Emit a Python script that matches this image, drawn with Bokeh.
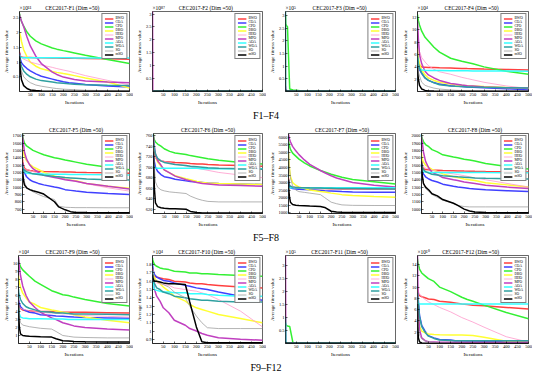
from bokeh.plotting import figure
from bokeh.layouts import column, row
from bokeh.models import Div, Range1d, FixedTicker, CustomJSTickFormatter
from bokeh.embed import file_html
from bokeh.resources import INLINE

ITERS = [1, 2, 5, 10, 20, 35, 50, 75, 100, 150, 170, 200, 225, 250, 300, 400, 500]
XTICKS = [50, 100, 150, 200, 250, 300, 350, 400, 450, 500]
NAMES = ["BWO", "COA", "CPO", "DBO", "HHO", "MPO", "AOA", "WOA", "SO", "mSO"]
COLORS = ["#ff4040", "#4040ff", "#33f033", "#ffff33", "#ff99cc", "#c040c0",
          "#33ffff", "#30a0a0", "#a0a0a0", "#000000"]
WIDTHS = [1.5, 1.5, 1.5, 1.5, 0.8, 1.5, 1.5, 1.5, 0.8, 1.5]
FONT = "Liberation Serif"

# ---------------- F1 (x10^11) ----------------
F1_BWO = [1.35, 1.30, 1.20, 1.17, 1.16, 1.16, 1.16, 1.15, 1.15, 1.14, 1.14, 1.13, 1.13, 1.13, 1.12, 1.11, 1.10]
F1_COA = [1.30, 1.25, 1.10, 0.98, 0.88, 0.78, 0.70, 0.60, 0.52, 0.42, 0.38, 0.33, 0.30, 0.28, 0.24, 0.19, 0.15]
F1_CPO = [2.65, 2.60, 2.50, 2.38, 2.22, 2.02, 1.88, 1.72, 1.62, 1.48, 1.44, 1.39, 1.35, 1.31, 1.23, 1.09, 0.95]
F1_DBO = [2.00, 1.98, 1.90, 1.70, 1.42, 1.18, 1.00, 0.86, 0.77, 0.68, 0.65, 0.61, 0.58, 0.54, 0.46, 0.32, 0.12]
F1_HHO = [1.30, 1.25, 1.20, 1.15, 1.10, 1.05, 1.00, 0.95, 0.90, 0.82, 0.78, 0.73, 0.69, 0.64, 0.54, 0.38, 0.22]
F1_MPO = [2.62, 2.58, 2.50, 2.40, 2.20, 1.85, 1.55, 1.20, 0.95, 0.66, 0.58, 0.49, 0.45, 0.41, 0.36, 0.32, 0.30]
F1_AOA = [1.25, 1.20, 1.18, 1.16, 1.15, 1.15, 1.15, 1.15, 1.15, 1.15, 1.15, 1.15, 1.15, 1.14, 1.14, 1.14, 1.14]
F1_WOA = [1.20, 1.15, 1.00, 0.85, 0.70, 0.58, 0.50, 0.42, 0.37, 0.32, 0.30, 0.28, 0.26, 0.25, 0.23, 0.21, 0.20]
F1_SO = [1.20, 1.10, 0.90, 0.70, 0.50, 0.38, 0.30, 0.22, 0.18, 0.12, 0.10, 0.08, 0.07, 0.06, 0.04, 0.03, 0.02]
F1_MSO = [1.20, 1.00, 0.70, 0.40, 0.20, 0.10, 0.05, 0.03, 0.02, 0.01, 0.01, 0.01, 0.01, 0.01, 0.01, 0.01, 0.01]
F1_YTICKS = [0.5, 1, 1.5, 2, 2.5]

# ---------------- F2 ----------------
F2_BWO = [0.02, 0.01, 0.01, 0.01, 0.01, 0.01, 0.01, 0.01, 0.01, 0.01, 0.01, 0.01, 0.01, 0.01, 0.01, 0.01, 0.01]
F2_COA = [0.02, 0.01, 0.01, 0.01, 0.01, 0.01, 0.01, 0.01, 0.01, 0.01, 0.01, 0.01, 0.01, 0.01, 0.01, 0.01, 0.01]
F2_CPO = [0.05, 0.01, 0.01, 0.01, 0.01, 0.01, 0.01, 0.01, 0.01, 0.01, 0.01, 0.01, 0.01, 0.01, 0.01, 0.01, 0.01]
F2_DBO = [0.02, 0.01, 0.01, 0.01, 0.01, 0.01, 0.01, 0.01, 0.01, 0.01, 0.01, 0.01, 0.01, 0.01, 0.01, 0.01, 0.01]
F2_HHO = [3.30, 0.01, 0.01, 0.01, 0.01, 0.01, 0.01, 0.01, 0.01, 0.01, 0.01, 0.01, 0.01, 0.01, 0.01, 0.01, 0.01]
F2_MPO = [3.30, 0.01, 0.01, 0.01, 0.01, 0.01, 0.01, 0.01, 0.01, 0.01, 0.01, 0.01, 0.01, 0.01, 0.01, 0.01, 0.01]
F2_AOA = [0.02, 0.01, 0.01, 0.01, 0.01, 0.01, 0.01, 0.01, 0.01, 0.01, 0.01, 0.01, 0.01, 0.01, 0.01, 0.01, 0.01]
F2_WOA = [0.02, 0.01, 0.01, 0.01, 0.01, 0.01, 0.01, 0.01, 0.01, 0.01, 0.01, 0.01, 0.01, 0.01, 0.01, 0.01, 0.01]
F2_SO = [0.02, 0.01, 0.01, 0.01, 0.01, 0.01, 0.01, 0.01, 0.01, 0.01, 0.01, 0.01, 0.01, 0.01, 0.01, 0.01, 0.01]
F2_MSO = [0.02, 0.01, 0.01, 0.01, 0.01, 0.01, 0.01, 0.01, 0.01, 0.01, 0.01, 0.01, 0.01, 0.01, 0.01, 0.01, 0.01]
F2_YTICKS = [0.5, 1, 1.5, 2, 2.5, 3]

# ---------------- F3 ----------------
F3_BWO = [0.05, 0.02, 0.01, 0.01, 0.01, 0.01, 0.01, 0.01, 0.01, 0.01, 0.01, 0.01, 0.01, 0.01, 0.01, 0.01, 0.01]
F3_COA = [0.05, 0.02, 0.01, 0.01, 0.01, 0.01, 0.01, 0.01, 0.01, 0.01, 0.01, 0.01, 0.01, 0.01, 0.01, 0.01, 0.01]
F3_CPO = [3.00, 2.65, 2.60, 2.55, 0.10, 0.06, 0.05, 0.02, 0.01, 0.01, 0.01, 0.01, 0.01, 0.01, 0.01, 0.01, 0.01]
F3_DBO = [0.05, 0.02, 0.01, 0.01, 0.01, 0.01, 0.01, 0.01, 0.01, 0.01, 0.01, 0.01, 0.01, 0.01, 0.01, 0.01, 0.01]
F3_HHO = [0.08, 0.03, 0.01, 0.01, 0.01, 0.01, 0.01, 0.01, 0.01, 0.01, 0.01, 0.01, 0.01, 0.01, 0.01, 0.01, 0.01]
F3_MPO = [0.20, 0.10, 0.05, 0.02, 0.01, 0.01, 0.01, 0.01, 0.01, 0.01, 0.01, 0.01, 0.01, 0.01, 0.01, 0.01, 0.01]
F3_AOA = [0.05, 0.02, 0.01, 0.01, 0.01, 0.01, 0.01, 0.01, 0.01, 0.01, 0.01, 0.01, 0.01, 0.01, 0.01, 0.01, 0.01]
F3_WOA = [3.30, 0.10, 0.02, 0.01, 0.01, 0.01, 0.01, 0.01, 0.01, 0.01, 0.01, 0.01, 0.01, 0.01, 0.01, 0.01, 0.01]
F3_SO = [0.05, 0.02, 0.01, 0.01, 0.01, 0.01, 0.01, 0.01, 0.01, 0.01, 0.01, 0.01, 0.01, 0.01, 0.01, 0.01, 0.01]
F3_MSO = [0.05, 0.02, 0.01, 0.01, 0.01, 0.01, 0.01, 0.01, 0.01, 0.01, 0.01, 0.01, 0.01, 0.01, 0.01, 0.01, 0.01]
F3_YTICKS = [0.5, 1, 1.5, 2, 2.5, 3]

# ---------------- F4 (x10^4) ----------------
F4_BWO = [6.0, 5.6, 4.8, 4.3, 4.0, 3.95, 3.9, 3.88, 3.85, 3.8, 3.78, 3.75, 3.72, 3.7, 3.65, 3.58, 3.5]
F4_COA = [5.5, 5.2, 4.4, 3.6, 2.9, 2.2, 1.8, 1.45, 1.2, 0.95, 0.88, 0.8, 0.75, 0.7, 0.6, 0.45, 0.3]
F4_CPO = [12.5, 12.2, 11.5, 10.8, 9.8, 8.8, 8.2, 7.2, 6.4, 5.4, 5.2, 4.9, 4.7, 4.5, 4.0, 3.3, 2.8]
F4_DBO = [7.0, 6.6, 5.5, 4.5, 3.5, 2.7, 2.2, 1.8, 1.5, 1.2, 1.1, 1.0, 0.95, 0.9, 0.8, 0.65, 0.5]
F4_HHO = [10.0, 9.5, 8.0, 6.5, 5.5, 4.8, 4.2, 3.6, 3.2, 2.8, 2.6, 2.3, 2.1, 1.9, 1.5, 0.9, 0.5]
F4_MPO = [11.5, 10.8, 8.5, 6.0, 4.5, 3.3, 2.7, 2.2, 1.8, 1.3, 1.2, 1.05, 0.95, 0.9, 0.75, 0.62, 0.55]
F4_AOA = [5.5, 5.0, 4.2, 3.7, 3.5, 3.45, 3.42, 3.4, 3.4, 3.38, 3.38, 3.37, 3.36, 3.35, 3.34, 3.32, 3.3]
F4_WOA = [6.0, 5.6, 4.6, 3.8, 3.0, 2.2, 1.8, 1.4, 1.1, 0.9, 0.85, 0.8, 0.75, 0.72, 0.68, 0.62, 0.58]
F4_SO = [5.0, 4.2, 3.2, 2.5, 1.5, 1.0, 0.8, 0.55, 0.4, 0.25, 0.2, 0.15, 0.12, 0.1, 0.08, 0.06, 0.05]
F4_MSO = [4.0, 3.0, 2.0, 1.0, 0.4, 0.18, 0.1, 0.07, 0.05, 0.04, 0.04, 0.04, 0.04, 0.04, 0.04, 0.04, 0.04]
F4_YTICKS = [2, 4, 6, 8, 10, 12]

# ---------------- F5 ----------------
F5_BWO = [1380, 1350, 1300, 1260, 1235, 1225, 1220, 1215, 1212, 1210, 1208, 1206, 1205, 1203, 1200, 1195, 1190]
F5_COA = [1330, 1300, 1250, 1200, 1140, 1100, 1075, 1050, 1030, 1000, 990, 965, 955, 945, 928, 912, 900]
F5_CPO = [1730, 1700, 1650, 1600, 1560, 1530, 1500, 1470, 1440, 1400, 1390, 1370, 1355, 1340, 1310, 1270, 1235]
F5_DBO = [1550, 1520, 1480, 1420, 1360, 1310, 1275, 1240, 1200, 1150, 1135, 1110, 1095, 1085, 1050, 1010, 985]
F5_HHO = [1300, 1280, 1265, 1250, 1240, 1225, 1210, 1190, 1170, 1140, 1130, 1110, 1095, 1080, 1045, 990, 945]
F5_MPO = [1720, 1680, 1600, 1480, 1380, 1300, 1250, 1200, 1160, 1130, 1120, 1100, 1090, 1080, 1050, 1010, 975]
F5_AOA = [1260, 1240, 1220, 1200, 1190, 1185, 1182, 1180, 1178, 1176, 1175, 1174, 1173, 1172, 1170, 1168, 1165]
F5_WOA = [1300, 1280, 1250, 1230, 1210, 1195, 1180, 1170, 1160, 1145, 1140, 1130, 1125, 1120, 1110, 1100, 1095]
F5_SO = [1300, 1250, 1150, 1070, 1000, 960, 935, 900, 870, 830, 740, 725, 722, 720, 720, 718, 718]
F5_MSO = [1250, 1200, 1100, 1030, 990, 965, 950, 930, 905, 800, 730, 690, 665, 655, 652, 650, 650]
F5_YTICKS = [700, 800, 900, 1000, 1100, 1200, 1300, 1400, 1500, 1600, 1700]

# ---------------- F6 ----------------
F6_BWO = [740, 735, 725, 718, 714, 712, 711, 710, 709, 708, 707, 706, 706, 705, 704, 703, 702]
F6_COA = [728, 720, 710, 700, 692, 686, 682, 680, 677, 674, 673, 672, 671, 670, 669, 668, 667]
F6_CPO = [762, 758, 752, 748, 744, 740, 735, 730, 727, 724, 722, 720, 718, 716, 713, 709, 706]
F6_DBO = [748, 742, 732, 720, 710, 702, 695, 689, 684, 678, 676, 673, 671, 670, 669, 668, 667]
F6_HHO = [730, 726, 722, 718, 715, 713, 711, 709, 706, 702, 700, 698, 696, 694, 690, 685, 680]
F6_MPO = [760, 752, 740, 725, 712, 704, 695, 689, 683, 676, 674, 671, 669, 668, 666, 665, 664]
F6_AOA = [706, 703, 700, 699, 698, 698, 698, 698, 698, 698, 698, 698, 697, 697, 697, 697, 697]
F6_WOA = [750, 745, 735, 725, 717, 712, 709, 707, 705, 703, 702, 701, 700, 699, 698, 697, 696]
F6_SO = [740, 730, 700, 672, 662, 657, 655, 653, 652, 650, 645, 640, 637, 635, 634, 634, 634]
F6_MSO = [730, 700, 660, 632, 625, 623, 622, 621, 621, 620, 616, 614, 613, 613, 613, 613, 613]
F6_YTICKS = [620, 640, 660, 680, 700, 720, 740, 760]

# ---------------- F7 ----------------
F7_BWO = [3300, 3000, 2800, 2700, 2650, 2640, 2630, 2620, 2610, 2600, 2600, 2590, 2590, 2580, 2570, 2560, 2550]
F7_COA = [3100, 2900, 2750, 2650, 2600, 2580, 2560, 2540, 2520, 2480, 2460, 2440, 2420, 2400, 2380, 2360, 2350]
F7_CPO = [5900, 5700, 5450, 5200, 4950, 4750, 4550, 4300, 4100, 3800, 3700, 3550, 3450, 3350, 3200, 3050, 2900]
F7_DBO = [5000, 4700, 4000, 3400, 3000, 2820, 2700, 2600, 2500, 2400, 2370, 2300, 2250, 2200, 2150, 2080, 2020]
F7_HHO = [3200, 3000, 2900, 2800, 2750, 2700, 2680, 2660, 2640, 2620, 2610, 2600, 2590, 2580, 2570, 2560, 2550]
F7_MPO = [6200, 6100, 5900, 5700, 5400, 5100, 4850, 4500, 4200, 3800, 3650, 3450, 3300, 3200, 3000, 2820, 2700]
F7_AOA = [2750, 2700, 2680, 2660, 2650, 2650, 2650, 2650, 2650, 2650, 2650, 2650, 2650, 2650, 2650, 2650, 2650]
F7_WOA = [3200, 3000, 2850, 2750, 2700, 2680, 2670, 2660, 2650, 2640, 2630, 2620, 2610, 2600, 2600, 2590, 2580]
F7_SO = [5800, 5000, 4000, 3300, 2800, 2500, 2400, 2350, 2300, 2200, 2000, 1700, 1600, 1520, 1490, 1480, 1480]
F7_MSO = [3200, 2600, 2100, 1700, 1550, 1500, 1480, 1460, 1440, 1420, 1350, 1100, 1050, 1030, 1020, 1020, 1020]
F7_YTICKS = [1000, 1500, 2000, 2500, 3000, 3500, 4000, 4500, 5000, 5500, 6000]

# ---------------- F8 ----------------
F8_BWO = [1650, 1620, 1580, 1550, 1540, 1535, 1530, 1528, 1525, 1522, 1520, 1518, 1517, 1515, 1512, 1510, 1505]
F8_COA = [1620, 1580, 1530, 1480, 1440, 1410, 1390, 1370, 1340, 1310, 1300, 1290, 1280, 1275, 1265, 1250, 1240]
F8_CPO = [2010, 1990, 1960, 1920, 1880, 1850, 1810, 1780, 1740, 1710, 1700, 1680, 1670, 1655, 1620, 1580, 1545]
F8_DBO = [1760, 1720, 1680, 1640, 1600, 1570, 1540, 1510, 1480, 1440, 1430, 1410, 1400, 1390, 1360, 1330, 1300]
F8_HHO = [1620, 1610, 1600, 1580, 1560, 1545, 1530, 1515, 1500, 1480, 1470, 1455, 1440, 1425, 1400, 1350, 1300]
F8_MPO = [2000, 1960, 1900, 1780, 1650, 1560, 1500, 1470, 1430, 1400, 1390, 1370, 1360, 1350, 1325, 1300, 1280]
F8_AOA = [1560, 1540, 1520, 1510, 1505, 1502, 1500, 1500, 1500, 1500, 1500, 1500, 1500, 1500, 1498, 1496, 1495]
F8_WOA = [1620, 1600, 1570, 1540, 1510, 1490, 1475, 1465, 1455, 1445, 1440, 1435, 1430, 1425, 1420, 1415, 1410]
F8_SO = [1700, 1600, 1450, 1350, 1280, 1240, 1200, 1160, 1120, 1080, 1050, 1035, 1030, 1030, 1030, 1030, 1030]
F8_MSO = [1650, 1550, 1450, 1350, 1300, 1260, 1210, 1180, 1130, 1080, 1050, 1000, 975, 960, 952, 950, 950]
F8_YTICKS = [1000, 1100, 1200, 1300, 1400, 1500, 1600, 1700, 1800, 1900, 2000]

# ---------------- F9 (x10^4) ----------------
F9_BWO = [5.5, 5.0, 4.7, 4.4, 4.2, 4.1, 4.1, 4.0, 4.0, 4.0, 3.9, 3.9, 3.9, 3.9, 3.9, 3.85, 3.8]
F9_COA = [5.5, 5.3, 5.0, 4.6, 4.3, 4.1, 3.9, 3.8, 3.6, 3.5, 3.45, 3.4, 3.35, 3.3, 3.25, 3.2, 3.15]
F9_CPO = [10.5, 10.3, 10.0, 9.6, 9.2, 8.8, 8.4, 7.8, 7.4, 6.6, 6.4, 6.1, 6.0, 5.8, 5.5, 5.0, 4.7]
F9_DBO = [8.5, 8.2, 7.6, 7.0, 6.3, 5.7, 5.2, 4.9, 4.5, 4.2, 4.1, 3.9, 3.8, 3.6, 3.3, 2.9, 2.6]
F9_HHO = [5.0, 4.8, 4.6, 4.4, 4.3, 4.2, 4.1, 4.0, 3.9, 3.8, 3.8, 3.7, 3.7, 3.6, 3.5, 3.4, 3.3]
F9_MPO = [10.8, 10.5, 9.6, 8.5, 7.2, 6.0, 5.2, 4.5, 3.9, 3.2, 3.0, 2.6, 2.4, 2.2, 2.0, 1.8, 1.7]
F9_AOA = [4.5, 4.2, 3.7, 3.3, 3.2, 3.15, 3.1, 3.1, 3.1, 3.05, 3.05, 3.05, 3.0, 3.0, 3.0, 3.0, 3.0]
F9_WOA = [6.8, 6.4, 6.0, 5.5, 5.0, 4.6, 4.4, 4.2, 4.0, 3.9, 3.8, 3.8, 3.75, 3.7, 3.7, 3.65, 3.6]
F9_SO = [6.0, 5.0, 3.5, 2.6, 2.3, 2.2, 2.1, 2.0, 1.9, 1.8, 1.5, 1.0, 0.9, 0.8, 0.75, 0.7, 0.7]
F9_MSO = [5.0, 3.5, 2.0, 1.2, 1.0, 0.95, 0.9, 0.88, 0.85, 0.8, 0.6, 0.35, 0.3, 0.25, 0.22, 0.2, 0.2]
F9_YTICKS = [1, 2, 3, 4, 5, 6, 7, 8, 9, 10]

# ---------------- F10 (x10^4) ----------------
F10_BWO = [1.76, 1.72, 1.68, 1.66, 1.65, 1.64, 1.63, 1.62, 1.60, 1.59, 1.58, 1.57, 1.57, 1.56, 1.55, 1.53, 1.52]
F10_COA = [1.82, 1.78, 1.72, 1.68, 1.65, 1.63, 1.61, 1.60, 1.58, 1.55, 1.54, 1.52, 1.51, 1.50, 1.47, 1.42, 1.37]
F10_CPO = [1.88, 1.86, 1.83, 1.80, 1.78, 1.76, 1.75, 1.74, 1.72, 1.71, 1.70, 1.70, 1.69, 1.69, 1.68, 1.67, 1.66]
F10_DBO = [1.75, 1.72, 1.68, 1.64, 1.60, 1.57, 1.53, 1.48, 1.42, 1.36, 1.32, 1.28, 1.26, 1.24, 1.20, 1.15, 1.10]
F10_HHO = [1.72, 1.68, 1.64, 1.60, 1.58, 1.57, 1.56, 1.55, 1.52, 1.50, 1.49, 1.48, 1.46, 1.44, 1.38, 1.24, 1.05]
F10_MPO = [1.75, 1.70, 1.60, 1.50, 1.42, 1.36, 1.28, 1.22, 1.13, 1.07, 1.03, 1.00, 0.97, 0.95, 0.92, 0.90, 0.89]
F10_AOA = [1.72, 1.65, 1.55, 1.50, 1.49, 1.48, 1.47, 1.47, 1.46, 1.46, 1.45, 1.45, 1.45, 1.44, 1.43, 1.42, 1.42]
F10_WOA = [1.72, 1.68, 1.62, 1.57, 1.52, 1.50, 1.47, 1.45, 1.42, 1.40, 1.39, 1.38, 1.37, 1.37, 1.36, 1.35, 1.35]
F10_SO = [1.70, 1.68, 1.65, 1.62, 1.60, 1.58, 1.56, 1.53, 1.47, 1.40, 1.30, 1.18, 1.10, 1.04, 1.03, 1.03, 1.03]
F10_MSO = [1.68, 1.65, 1.62, 1.60, 1.60, 1.59, 1.58, 1.57, 1.57, 1.56, 1.35, 1.05, 0.87, 0.86, 0.86, 0.86, 0.86]
F10_YTICKS = [0.9, 1, 1.1, 1.2, 1.3, 1.4, 1.5, 1.6, 1.7, 1.8]

# ---------------- F11 ----------------
F11_BWO = [0.05, 0.02, 0.01, 0.01, 0.01, 0.01, 0.01, 0.01, 0.01, 0.01, 0.01, 0.01, 0.01, 0.01, 0.01, 0.01, 0.01]
F11_COA = [0.05, 0.02, 0.01, 0.01, 0.01, 0.01, 0.01, 0.01, 0.01, 0.01, 0.01, 0.01, 0.01, 0.01, 0.01, 0.01, 0.01]
F11_CPO = [0.80, 0.75, 0.70, 0.68, 0.66, 0.02, 0.01, 0.01, 0.01, 0.01, 0.01, 0.01, 0.01, 0.01, 0.01, 0.01, 0.01]
F11_DBO = [0.05, 0.02, 0.01, 0.01, 0.01, 0.01, 0.01, 0.01, 0.01, 0.01, 0.01, 0.01, 0.01, 0.01, 0.01, 0.01, 0.01]
F11_HHO = [3.40, 0.02, 0.01, 0.01, 0.01, 0.01, 0.01, 0.01, 0.01, 0.01, 0.01, 0.01, 0.01, 0.01, 0.01, 0.01, 0.01]
F11_MPO = [3.40, 0.02, 0.01, 0.01, 0.01, 0.01, 0.01, 0.01, 0.01, 0.01, 0.01, 0.01, 0.01, 0.01, 0.01, 0.01, 0.01]
F11_AOA = [0.80, 0.02, 0.01, 0.01, 0.01, 0.01, 0.01, 0.01, 0.01, 0.01, 0.01, 0.01, 0.01, 0.01, 0.01, 0.01, 0.01]
F11_WOA = [1.00, 0.02, 0.01, 0.01, 0.01, 0.01, 0.01, 0.01, 0.01, 0.01, 0.01, 0.01, 0.01, 0.01, 0.01, 0.01, 0.01]
F11_SO = [0.05, 0.02, 0.01, 0.01, 0.01, 0.01, 0.01, 0.01, 0.01, 0.01, 0.01, 0.01, 0.01, 0.01, 0.01, 0.01, 0.01]
F11_MSO = [0.05, 0.02, 0.01, 0.01, 0.01, 0.01, 0.01, 0.01, 0.01, 0.01, 0.01, 0.01, 0.01, 0.01, 0.01, 0.01, 0.01]
F11_YTICKS = [0.5, 1, 1.5, 2, 2.5, 3]

# ---------------- F12 (x10^10) ----------------
F12_BWO = [10.0, 9.3, 8.8, 8.5, 8.3, 8.1, 7.9, 7.8, 7.5, 7.3, 7.2, 7.0, 6.9, 6.8, 6.7, 6.4, 6.1]
F12_COA = [9.5, 9.0, 7.5, 5.0, 3.2, 2.2, 1.4, 1.0, 0.7, 0.6, 0.5, 0.5, 0.45, 0.45, 0.4, 0.4, 0.4]
F12_CPO = [15.0, 14.5, 14.0, 13.2, 12.5, 12.0, 11.5, 11.0, 10.0, 9.2, 8.8, 8.2, 7.8, 7.5, 6.8, 5.5, 4.4]
F12_DBO = [9.5, 8.0, 5.0, 3.0, 2.2, 1.9, 1.7, 1.6, 1.55, 1.5, 1.5, 1.5, 1.45, 1.4, 1.1, 0.4, 0.3]
F12_HHO = [9.8, 9.5, 9.2, 8.8, 8.3, 7.8, 7.4, 6.9, 6.4, 5.6, 5.2, 4.6, 4.2, 3.8, 2.9, 1.2, 0.25]
F12_MPO = [15.5, 12.0, 6.0, 2.5, 1.0, 0.5, 0.3, 0.25, 0.2, 0.2, 0.2, 0.2, 0.2, 0.2, 0.2, 0.2, 0.2]
F12_AOA = [7.3, 7.1, 7.0, 7.0, 7.0, 7.0, 7.0, 7.0, 7.0, 7.0, 7.0, 7.0, 7.0, 7.0, 7.0, 7.0, 7.0]
F12_WOA = [9.0, 8.5, 7.0, 4.8, 3.0, 2.0, 1.3, 0.9, 0.6, 0.55, 0.5, 0.5, 0.5, 0.5, 0.5, 0.5, 0.5]
F12_SO = [8.0, 5.0, 3.0, 1.5, 0.8, 0.5, 0.3, 0.2, 0.1, 0.08, 0.07, 0.06, 0.05, 0.05, 0.05, 0.05, 0.05]
F12_MSO = [7.0, 3.0, 1.0, 0.3, 0.1, 0.05, 0.03, 0.02, 0.02, 0.02, 0.02, 0.02, 0.02, 0.02, 0.02, 0.02, 0.02]
F12_YTICKS = [2, 4, 6, 8, 10, 12, 14]

PANELS = [
    ("F1", [F1_BWO, F1_COA, F1_CPO, F1_DBO, F1_HHO, F1_MPO, F1_AOA, F1_WOA, F1_SO, F1_MSO], (0, 2.72), F1_YTICKS, "\u00d710\u00b9\u00b9"),
    ("F2", [F2_BWO, F2_COA, F2_CPO, F2_DBO, F2_HHO, F2_MPO, F2_AOA, F2_WOA, F2_SO, F2_MSO], (0, 3.1), F2_YTICKS, "\u00d710\u2078\u2077"),
    ("F3", [F3_BWO, F3_COA, F3_CPO, F3_DBO, F3_HHO, F3_MPO, F3_AOA, F3_WOA, F3_SO, F3_MSO], (0, 3.15), F3_YTICKS, "\u00d710\u2075"),
    ("F4", [F4_BWO, F4_COA, F4_CPO, F4_DBO, F4_HHO, F4_MPO, F4_AOA, F4_WOA, F4_SO, F4_MSO], (0, 13), F4_YTICKS, "\u00d710\u2074"),
    ("F5", [F5_BWO, F5_COA, F5_CPO, F5_DBO, F5_HHO, F5_MPO, F5_AOA, F5_WOA, F5_SO, F5_MSO], (640, 1730), F5_YTICKS, ""),
    ("F6", [F6_BWO, F6_COA, F6_CPO, F6_DBO, F6_HHO, F6_MPO, F6_AOA, F6_WOA, F6_SO, F6_MSO], (612, 764), F6_YTICKS, ""),
    ("F7", [F7_BWO, F7_COA, F7_CPO, F7_DBO, F7_HHO, F7_MPO, F7_AOA, F7_WOA, F7_SO, F7_MSO], (950, 6250), F7_YTICKS, ""),
    ("F8", [F8_BWO, F8_COA, F8_CPO, F8_DBO, F8_HHO, F8_MPO, F8_AOA, F8_WOA, F8_SO, F8_MSO], (940, 2030), F8_YTICKS, ""),
    ("F9", [F9_BWO, F9_COA, F9_CPO, F9_DBO, F9_HHO, F9_MPO, F9_AOA, F9_WOA, F9_SO, F9_MSO], (0, 11), F9_YTICKS, "\u00d710\u2074"),
    ("F10", [F10_BWO, F10_COA, F10_CPO, F10_DBO, F10_HHO, F10_MPO, F10_AOA, F10_WOA, F10_SO, F10_MSO], (0.85, 1.91), F10_YTICKS, "\u00d710\u2074"),
    ("F11", [F11_BWO, F11_COA, F11_CPO, F11_DBO, F11_HHO, F11_MPO, F11_AOA, F11_WOA, F11_SO, F11_MSO], (0, 3.4), F11_YTICKS, "\u00d710\u2075"),
    ("F12", [F12_BWO, F12_COA, F12_CPO, F12_DBO, F12_HHO, F12_MPO, F12_AOA, F12_WOA, F12_SO, F12_MSO], (0, 15.6), F12_YTICKS, "\u00d710\u00b9\u2070"),
]
CAPTIONS = ["F1\u2013F4", "F5\u2013F8", "F9\u2013F12"]

FIG_W = 133
BORDER_L = 18
BORDER_R = 4
TITLE_FS = 5.5
NBSP = "\u00a0"


def est_width(s, fs):
    w = 0.0
    for ch in s:
        if ch.isdigit():
            w += 0.5
        elif ch in "\u00b9\u00b2\u00b3\u2070\u2074\u2075\u2076\u2077\u2078\u2079":
            w += 0.3
        elif ch.isupper():
            w += 0.68
        elif ch.islower():
            w += 0.45
        elif ch == " ":
            w += 0.25
        elif ch in "()-":
            w += 0.33
        else:
            w += 0.56
    return w * fs


def title_text(name, expo):
    main = f"CEC2017-{name} (Dim =50)"
    if not expo:
        return main, "center"
    frame_w = FIG_W - BORDER_L - BORDER_R
    start = (frame_w - est_width(main, TITLE_FS)) / 2
    gap = start - est_width(expo, TITLE_FS)
    n = max(1, int(round(gap / (0.25 * TITLE_FS))))
    return expo + NBSP * n + main, "left"


def make_panel(idx, name, series, yr, yticks, expo):
    h = 115 if idx >= 8 else 107
    txt, al = title_text(name, expo)
    p = figure(width=FIG_W, height=h, x_range=Range1d(1, 500), y_range=Range1d(*yr),
               output_backend="svg", toolbar_location=None, title=txt,
               min_border_left=BORDER_L, min_border_right=BORDER_R, min_border_top=11, min_border_bottom=4)
    p.title.text_font = FONT
    p.title.text_font_size = f"{TITLE_FS}px"
    p.title.text_font_style = "normal"
    p.title.text_color = "black"
    p.title.align = al
    p.title.standoff = 2
    p.grid.visible = False
    p.outline_line_color = "black"
    p.outline_line_width = 0.6
    p.background_fill_color = "white"
    p.border_fill_color = "white"
    for ax in (p.xaxis[0], p.yaxis[0]):
        ax.major_tick_in = 2
        ax.major_tick_out = 0
        ax.minor_tick_line_color = None
        ax.axis_line_width = 0.6
        ax.major_tick_line_width = 0.6
        ax.major_label_text_font = FONT
        ax.major_label_text_font_size = "4.5px"
        ax.major_label_text_color = "black"
        ax.major_label_standoff = 1
        ax.axis_label_text_font = FONT
        ax.axis_label_text_font_size = "5px"
        ax.axis_label_text_font_style = "normal"
        ax.axis_label_text_color = "black"
        ax.axis_label_standoff = 1
    p.xaxis.ticker = FixedTicker(ticks=XTICKS)
    p.yaxis.ticker = FixedTicker(ticks=yticks)
    p.yaxis.formatter = CustomJSTickFormatter(code="return String(Math.round(tick*1000)/1000)")
    p.xaxis.axis_label = "Iterations"
    p.yaxis.axis_label = "Average fitness value"
    for nm, col, lw, ys in zip(NAMES, COLORS, WIDTHS, series):
        p.line(ITERS, ys, line_color=col, line_width=lw, legend_label=nm)
    lg = p.legend[0]
    lg.location = "top_right"
    lg.label_text_font = FONT
    lg.label_text_font_size = "3.6px"
    lg.label_text_color = "black"
    lg.label_height = 3
    lg.label_width = 0
    lg.glyph_height = 3
    lg.glyph_width = 9
    lg.spacing = 0
    lg.padding = 2
    lg.margin = 2
    lg.label_standoff = 2
    lg.border_line_color = "black"
    lg.border_line_width = 0.5
    return p


figs = [make_panel(i, *pan) for i, pan in enumerate(PANELS)]


def caption(txt):
    return Div(text=f'<div style="width:532px;text-align:center;font-family:\'Liberation Serif\';'
                    f'font-size:10px;line-height:15px;color:#000">{txt}</div>',
               width=532, height=15, margin=0)


layout = column(
    row(figs[0:4], spacing=0), caption(CAPTIONS[0]),
    row(figs[4:8], spacing=0), caption(CAPTIONS[1]),
    row(figs[8:12], spacing=0), caption(CAPTIONS[2]),
    spacing=0,
)

open("out.html", "w").write(file_html(layout, INLINE))
